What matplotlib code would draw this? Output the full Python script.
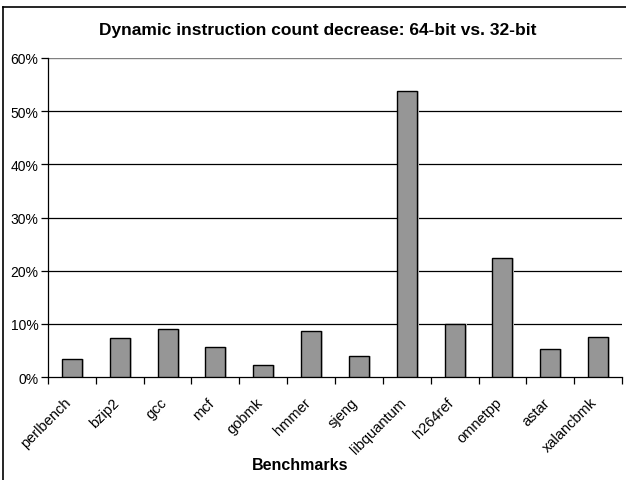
import matplotlib.pyplot as plt
import matplotlib.transforms as mtransforms
import numpy as np
from matplotlib.lines import Line2D

plt.rcParams['font.family'] = ['Liberation Sans', 'DejaVu Sans']

benchmarks = ['perlbench', 'bzip2', 'gcc', 'mcf', 'gobmk', 'hmmer', 'sjeng',
              'libquantum', 'h264ref', 'omnetpp', 'astar', 'xalancbmk']
decrease = [3.4, 7.25, 9.05, 5.7, 2.3, 8.7, 4.0, 53.7, 10.0, 22.4, 5.25, 7.55]
yticks = [0, 10, 20, 30, 40, 50, 60]

fig = plt.figure(figsize=(6.26, 4.81), dpi=100)
W, H = 626, 481
ax = fig.add_axes([48 / W, 1 - 378 / H, (622 - 48) / W, (378 - 59) / H])

x = np.arange(len(benchmarks))
# faint shadow to the right of each bar
ax.bar(x + 0.04, decrease, width=0.42, color='#d0d0d0', zorder=2)
ax.bar(x, decrease, width=0.42, color='#969696', edgecolor='black',
       linewidth=1.0, zorder=3)

ax.set_xlim(-0.5, len(benchmarks) - 0.5)
ax.set_ylim(0, 60)
ax.set_yticks(yticks)
ax.set_yticklabels([f'{v}%' for v in yticks], fontsize=10)
for v in yticks[1:-1]:
    ax.axhline(v, color='black', linewidth=0.9, zorder=1)
ax.axhline(60, color='#808080', linewidth=1.0, zorder=1)

# category ticks sit between the bars, labels placed by hand below
ax.set_xticks(np.arange(len(benchmarks) + 1) - 0.5)
ax.set_xticklabels([])
ax.tick_params(axis='x', length=5, direction='out', width=0.9)
ax.tick_params(axis='y', length=5, direction='out', width=0.9, pad=2)

offset = mtransforms.ScaledTranslation(-8 / 100, -18 / 100, fig.dpi_scale_trans)
for i, name in enumerate(benchmarks):
    ax.text(i, 0, name, transform=ax.get_xaxis_transform() + offset,
            rotation=45, ha='right', va='top', rotation_mode='anchor',
            fontsize=10.5)

for s in ['top', 'right']:
    ax.spines[s].set_visible(False)
ax.spines['left'].set_linewidth(0.9)
ax.spines['bottom'].set_linewidth(0.9)

fig.text(318 / W, 1 - 31 / H, 'Dynamic instruction count decrease: 64-bit vs. 32-bit',
         ha='center', va='center', fontsize=12.5, fontweight='bold')
fig.text(300 / W, 1 - 466 / H, 'Benchmarks', ha='center', va='center',
         fontsize=11.5, fontweight='bold')

# outer chart border (left and top edges visible)
fig.add_artist(Line2D([3 / W, 3 / W], [0, 1 - 8 / H], color='black', linewidth=1.2,
                      transform=fig.transFigure))
fig.add_artist(Line2D([3 / W, 1], [1 - 8 / H, 1 - 8 / H], color='black', linewidth=1.2,
                      transform=fig.transFigure))

fig.savefig('out.png', dpi=100)
